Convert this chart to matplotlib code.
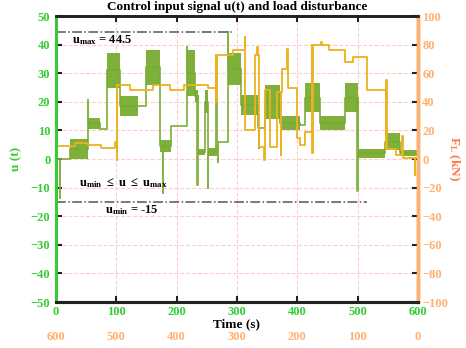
import matplotlib
matplotlib.use('Agg')
import matplotlib.pyplot as plt

plt.rcParams['font.family'] = ['Liberation Serif', 'DejaVu Serif']
plt.rcParams['font.weight'] = 'bold'
plt.rcParams['mathtext.fontset'] = 'custom'
plt.rcParams['mathtext.rm'] = 'Liberation Serif:bold'
plt.rcParams['mathtext.it'] = 'Liberation Serif:bold'
plt.rcParams['mathtext.bf'] = 'Liberation Serif:bold'

# control input u(t): piecewise levels, start time of each level and noise half-width
u_start = [0, 24, 53, 73, 85, 106, 136, 150, 172, 190, 217, 230, 235, 247, 252,
           267, 285, 306, 335, 346, 371, 404, 413, 438, 479, 500, 546, 570]
u_level = [0, 3.5, 12.5, 10.5, 31, 18.5, 18.5, 32, 4.5, 11.5, 30, 22, 2.4, 20, 2.4,
           6, 31.5, 19, 11, 20, 12.5, 12, 21.5, 12.5, 21.5, 2, 6, 2]
u_noise = [0.3, 3.5, 2, 0.4, 6, 3.5, 0.5, 6, 2, 0.5, 8, 2, 1, 4, 1.5,
           0.8, 5.5, 3.5, 0.5, 6, 2.5, 0.4, 5, 2.5, 5, 1.5, 3, 1]
u_spike_t = [6, 53, 177, 217, 234, 252, 266, 268, 285, 336, 499]
u_spike_v = [-13.5, 20.5, -12, 39, -9, -10, 36, -1, 44.3, 4, -11]

# load disturbance F_L (kN): step levels and short transients
f_start = [0, 31.5, 53, 75, 98, 101, 123, 161, 189, 212, 252, 266, 293, 314, 330,
           337, 346, 354, 366, 374, 385, 400, 405, 413, 425, 452, 479, 492, 515,
           547, 563, 575]
f_level = [9, 11, 9.5, 8, 12, 51.5, 48.5, 51.5, 48.5, 51.5, 49.5, 72.7, 76, 20, 73,
           8.4, 48, 8.4, 47, 63, 49.5, 14.5, 10, 19, 79.7, 76.2, 68, 71.5, 48.3,
           7, 2.5, 1]
f_spike_t = [101, 266, 313, 334, 345, 373, 383, 425, 440, 547, 574, 595]
f_spike_v = [-1, 40, 85, 78.5, -1, 3, 77, 4, 82, 55, 16, -11]

t_end = 600
u_max, u_min = 44.5, -15

c_u = '#77AC30'
c_f = '#EDB120'
c_lgreen = '#33cc33'
c_lorange = '#ffb070'


def step_series(starts, levels, spike_t, spike_v, end):
    pts = [(s, v) for s, v in zip(starts, levels)]
    for st, sv in zip(spike_t, spike_v):
        base = levels[max(i for i, s in enumerate(starts) if s <= st)]
        pts.append((st, sv))
        pts.append((st + 0.8, base))
    pts.sort(key=lambda p: p[0])
    ts = [p[0] for p in pts] + [end]
    vs = [p[1] for p in pts] + [pts[-1][1]]
    return ts, vs


fig = plt.figure(figsize=(4.66, 3.48), dpi=100)
ax = fig.add_axes([0.120, 0.132, 0.777, 0.822])
ax2 = ax.twinx()

ax.set_xlim(0, t_end)
ax.set_ylim(-50, 50)
ax2.set_ylim(-100, 100)

ax.grid(True, color='#ffcccc', linestyle='--', linewidth=0.8)
ax.set_axisbelow(True)

# u(t): noisy bands plus stepped trace
ends = u_start[1:] + [t_end]
for s, e, lv, nz in zip(u_start, ends, u_level, u_noise):
    if nz >= 1:
        ax.fill_between([s, e], [lv - nz] * 2, [lv + nz] * 2, color=c_u,
                        linewidth=0, alpha=0.95)
ut, uv = step_series(u_start, u_level, u_spike_t, u_spike_v, t_end)
ax.plot(ut, uv, drawstyle='steps-post', color=c_u, linewidth=1.3, alpha=0.9)

# limits of u
ax.plot([0, 291], [u_max, u_max], linestyle='-.', color='#555555', linewidth=1.1)
ax.plot([0, 516], [u_min, u_min], linestyle='-.', color='#555555', linewidth=1.1)
ax.text(26, 41.5, r'$\mathrm{u_{max}}$ = 44.5', fontsize=9, va='center')
ax.text(38, -8.5, r'$\mathrm{u_{min}}$ $\leq$ u $\leq$ $\mathrm{u_{max}}$',
        fontsize=9, va='center')
ax.text(81, -17.8, r'$\mathrm{u_{min}}$ = -15', fontsize=9, va='center')

# F_L on the right axis
ft, fv = step_series(f_start, f_level, f_spike_t, f_spike_v, t_end)
ax2.plot(ft, fv, drawstyle='steps-post', color=c_f, linewidth=1.3)

ax.set_xticks(range(0, 601, 100))
ax.set_yticks(range(-50, 51, 10))
ax2.set_yticks(range(-100, 101, 20))

ax.tick_params(axis='x', which='both', direction='in', length=4, width=1.5,
               color='#222222', labelcolor=c_lgreen, labelsize=9, pad=3,
               top=True)
ax.tick_params(axis='y', direction='in', length=4, width=1.5, color='#222222',
               labelcolor=c_lgreen, labelsize=9, pad=4)
ax2.tick_params(axis='y', direction='in', length=4, width=1.5, color='#222222',
                labelcolor=c_lorange, labelsize=9, pad=3)

# reversed time scale under the axis
sec = ax.secondary_xaxis('bottom', functions=(lambda x: t_end - x,
                                               lambda x: t_end - x))
sec.set_xticks(range(0, 601, 100))
sec.tick_params(length=0, pad=21, labelcolor=c_lorange, labelsize=9)
sec.spines['bottom'].set_visible(False)

for a in (ax, ax2):
    a.spines['top'].set_linewidth(2)
    a.spines['top'].set_color('#222222')
    a.spines['bottom'].set_linewidth(2.2)
    a.spines['bottom'].set_color('#222222')
    a.spines['left'].set_color(c_lgreen)
    a.spines['left'].set_linewidth(2)
    a.spines['right'].set_color(c_lorange)
    a.spines['right'].set_linewidth(2.5)

ax.set_title('Control input signal u(t) and load disturbance', fontsize=9.5,
             fontweight='bold', pad=4)
ax.set_xlabel('Time (s)', fontsize=9.5, fontweight='bold', labelpad=0)
ax.set_ylabel('u (t)', fontsize=9.5, fontweight='bold', color=c_lgreen, labelpad=6)
ax2.set_ylabel(r'F$_{\mathrm{L}}$ (kN)', fontsize=9.5, fontweight='bold',
               color='#ff7744', rotation=270, labelpad=10)

fig.savefig('out.png', dpi=100)
